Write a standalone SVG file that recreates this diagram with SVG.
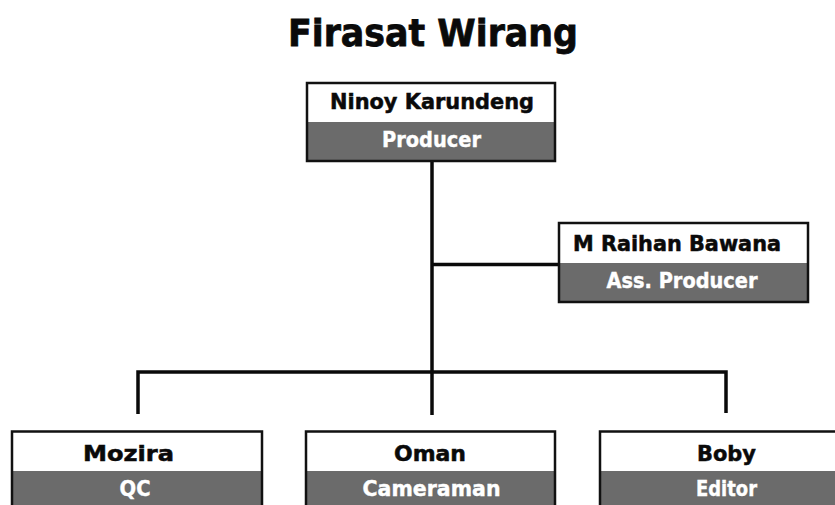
<svg xmlns="http://www.w3.org/2000/svg" width="835" height="505" viewBox="0 0 835 505">
<style>
.top{fill:#ffffff}
.bot{fill:#6b6b6b}
.frame{fill:none;stroke:#111111;stroke-width:2.5}
.name{font-family:"DejaVu Sans","Liberation Sans",sans-serif;font-weight:bold;font-size:20.5px;fill:#0a0a0a;stroke:#0a0a0a;stroke-width:0.5;text-anchor:middle}
.role{font-family:"DejaVu Sans","Liberation Sans",sans-serif;font-weight:bold;font-size:20.5px;fill:#ffffff;stroke:#ffffff;stroke-width:0.4;text-anchor:middle}
.title{font-family:"DejaVu Sans","Liberation Sans",sans-serif;font-weight:bold;font-size:38px;fill:#0a0a0a;stroke:#0a0a0a;stroke-width:0.8;text-anchor:middle}
.link{fill:none;stroke:#0a0a0a;stroke-width:3.5}
</style>
<rect width="835" height="505" fill="#ffffff"/>
<text class="title" x="433" y="46" textLength="290" lengthAdjust="spacingAndGlyphs">Firasat Wirang</text>
<g id="connectors">
<path class="link" d="M432 161 V415"/>
<path class="link" d="M432 264.5 H559"/>
<path class="link" d="M138 414 V372 H726 V413"/>
</g>
<g id="ninoy">
<rect class="top" x="307" y="83" width="248" height="39"/>
<rect class="bot" x="307" y="122" width="248" height="39"/>
<rect class="frame" x="307" y="83" width="248" height="78"/>
<text class="name" x="432" y="109" textLength="204" lengthAdjust="spacingAndGlyphs">Ninoy Karundeng</text>
<text class="role" x="431.5" y="147" textLength="99" lengthAdjust="spacingAndGlyphs">Producer</text>
</g>
<g id="raihan">
<rect class="top" x="559" y="223" width="249" height="40"/>
<rect class="bot" x="559" y="263" width="249" height="39"/>
<rect class="frame" x="559" y="223" width="249" height="79"/>
<text class="name" x="677" y="251" textLength="208" lengthAdjust="spacingAndGlyphs">M Raihan Bawana</text>
<text class="role" x="682" y="288" textLength="151" lengthAdjust="spacingAndGlyphs">Ass. Producer</text>
</g>
<g id="mozira">
<rect class="top" x="12" y="431.5" width="250" height="39.5"/>
<rect class="bot" x="12" y="471" width="250" height="40"/>
<rect class="frame" x="12" y="431.5" width="250" height="80"/>
<text class="name" x="128.5" y="461" textLength="91" lengthAdjust="spacingAndGlyphs">Mozira</text>
<text class="role" x="135" y="496" textLength="31" lengthAdjust="spacingAndGlyphs">QC</text>
</g>
<g id="oman">
<rect class="top" x="306" y="431.5" width="249" height="39.5"/>
<rect class="bot" x="306" y="471" width="249" height="40"/>
<rect class="frame" x="306" y="431.5" width="249" height="80"/>
<text class="name" x="430" y="461" textLength="72" lengthAdjust="spacingAndGlyphs">Oman</text>
<text class="role" x="431.5" y="496" textLength="138" lengthAdjust="spacingAndGlyphs">Cameraman</text>
</g>
<g id="boby">
<rect class="top" x="600" y="431.5" width="250" height="39.5"/>
<rect class="bot" x="600" y="471" width="250" height="40"/>
<rect class="frame" x="600" y="431.5" width="250" height="80"/>
<text class="name" x="726.5" y="461" textLength="59" lengthAdjust="spacingAndGlyphs">Boby</text>
<text class="role" x="726.5" y="496" textLength="61" lengthAdjust="spacingAndGlyphs">Editor</text>
</g>
</svg>
